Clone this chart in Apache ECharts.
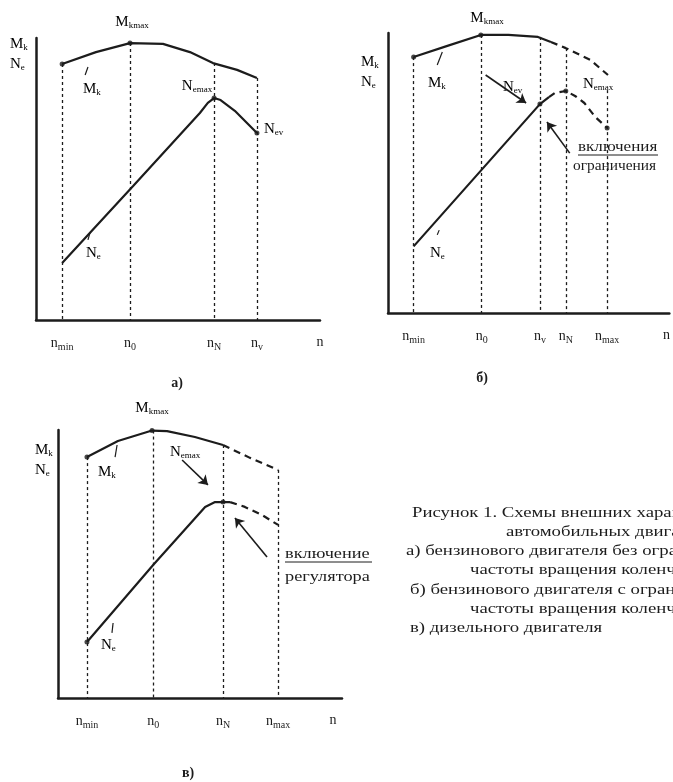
<!DOCTYPE html>
<html><head><meta charset="utf-8">
<script src="https://cdn.jsdelivr.net/npm/echarts@6/dist/echarts.min.js"></script>
<style>html,body{margin:0;padding:0;background:#fff}#c{width:673px;height:782px}</style>
</head><body><div id="c"></div>
<script>
// ---------- Panel а) petrol engine without speed limiter ----------
const a_tickNames = ['n_min', 'n_0', 'n_N', 'n_v', 'n'];
const a_tickX = [9.2, 33.1, 62.7, 77.8, 100];
const a_mkX = [9.2, 21.1, 33.1, 44.7, 54.2, 62.3, 70.8, 77.8];
const a_mkY = [90.8, 95.0, 98.2, 97.9, 95.0, 91.1, 88.7, 85.8];
const a_neX = [9.2, 34.2, 57.7, 60.5, 62.7, 65.0, 70.0, 77.8];
const a_neY = [20.2, 47.5, 73.4, 77.0, 78.7, 78.0, 74.2, 66.3];
const a_dotX = [9.2, 33.1, 62.7, 77.8];
const a_dotY = [90.8, 98.2, 78.7, 66.3];
const a_guideX = [9.2, 33.1, 62.7, 77.8];
const a_guideTop = [90.8, 98.2, 91.1, 85.8];

// ---------- Panel б) petrol engine with speed limiter ----------
const b_tickNames = ['n_min', 'n_0', 'n_v', 'n_N', 'n_max', 'n'];
const b_tickX = [9.1, 33.3, 54.0, 63.2, 77.9, 99];
const b_mkX = [9.1, 21.1, 33.0, 42.8, 53.3, 57.9];
const b_mkY = [91.4, 95.4, 99.3, 99.3, 98.6, 96.8];
const b_mkDashX = [57.9, 63.2, 71.9, 78.2];
const b_mkDashY = [96.8, 94.6, 90.4, 85.0];
const b_neX = [9.1, 54.0, 57.2];
const b_neY = [23.8, 74.6, 77.1];
const b_neDashX = [57.2, 59.3, 63.2, 66.5, 69.8, 73.7, 77.9];
const b_neDashY = [77.1, 78.6, 79.3, 77.5, 75.0, 70.0, 66.1];
const b_dotX = [9.1, 33.0, 54.0, 63.2, 77.9];
const b_dotY = [91.4, 99.3, 74.6, 79.3, 66.1];
const b_guideX = [9.1, 33.3, 54.0, 63.2, 77.9];
const b_guideTop = [91.4, 99.3, 98.6, 94.6, 79.6];

// ---------- Panel в) diesel engine ----------
const c_tickNames = ['n_min', 'n_0', 'n_N', 'n_max', 'n'];
const c_tickX = [10.2, 33.5, 58.1, 77.5, 96.8];
const c_mkX = [10.2, 21.1, 33.1, 38.4, 48.2, 58.1];
const c_mkY = [89.9, 95.9, 99.8, 99.6, 97.4, 94.4];
const c_mkDashX = [58.1, 67.6, 77.5];
const c_mkDashY = [94.4, 89.6, 85.1];
const c_neX = [10.2, 33.5, 51.8, 55.3, 58.1, 60.6];
const c_neY = [20.9, 49.6, 71.3, 73.1, 73.1, 73.1];
const c_neDashX = [60.6, 65.8, 71.8, 77.5];
const c_neDashY = [73.1, 71.3, 68.3, 64.6];
const c_dotX = [10.2, 33.1, 10.2, 58.1];
const c_dotY = [89.9, 99.8, 20.9, 73.1];
const c_guideX = [10.2, 33.5, 58.1, 77.5];
const c_guideTop = [89.9, 99.8, 94.4, 85.1];

// ---------- Caption ----------
const captionLines = [
  'Рисунок 1. Схемы внешних характеристик',
  'автомобильных двигателей:',
  'а) бензинового двигателя без ограничения',
  'частоты вращения коленчатого вала;',
  'б) бензинового двигателя с ограничением',
  'частоты вращения коленчатого вала;',
  'в) дизельного двигателя'
];

const FONT = '"Liberation Serif","Times New Roman",serif';
const INK = '#1c1c1c';

function sub(name) {
  const i = name.indexOf('_');
  if (i < 0) return '{m|' + name + '}';
  return '{m|' + name.slice(0, i) + '}{s|' + name.slice(i + 1) + '}';
}
function rich(big, small, drop) {
  return {
    m: { fontSize: big, fontFamily: FONT, color: INK },
    s: { fontSize: small, fontFamily: FONT, color: INK, padding: [drop, 0, 0, 0] }
  };
}
const pair = (xs, ys) => xs.map((x, k) => [x, ys[k]]);

const grids = [
  { left: 36, top: 38, width: 284, height: 282 },
  { left: 388, top: 33, width: 285, height: 280 },
  { left: 58, top: 430, width: 284, height: 268 }
];
const ticks = [[a_tickX, a_tickNames], [b_tickX, b_tickNames], [c_tickX, c_tickNames]];

const xAxis = ticks.map((t, i) => ({
  gridIndex: i, type: 'value', min: 0, max: 100,
  axisLine: { show: true, onZero: false, lineStyle: { color: INK, width: 2.5 } },
  axisTick: { show: false }, splitLine: { show: false },
  axisLabel: {
    show: true, customValues: t[0], margin: 15, showMaxLabel: true, showMinLabel: true,
    formatter: v => sub(t[1][t[0].indexOf(v)]),
    rich: rich(14, 10, 7)
  }
}));
const yAxis = grids.map((g, i) => ({
  gridIndex: i, type: 'value', min: 0, max: 100,
  axisLine: { show: true, onZero: false, lineStyle: { color: INK, width: 2.5 } },
  axisTick: { show: false }, splitLine: { show: false }, axisLabel: { show: false }
}));

function lineSeries(i, xs, ys, dashed, extra) {
  return Object.assign({
    type: 'line', xAxisIndex: i, yAxisIndex: i, data: pair(xs, ys),
    showSymbol: false, symbol: 'none', silent: true, animation: false, z: 3,
    lineStyle: { color: INK, width: 2.2, type: dashed ? [7, 5] : 'solid' }
  }, extra || {});
}
function guides(xs, tops) {
  return {
    silent: true, animation: false, symbol: 'none', label: { show: false },
    lineStyle: { color: INK, width: 1.3, type: [3, 3] },
    data: xs.map((x, k) => [{ coord: [x, tops[k]] }, { coord: [x, 0] }])
  };
}
function arrows(list, head) {
  return {
    silent: true, animation: false, symbol: head ? ['none', 'arrow'] : 'none', symbolSize: 9,
    label: { show: false },
    lineStyle: { color: INK, width: head ? 1.6 : 1.2, type: 'solid' },
    data: list.map(s => [{ coord: s[0] }, { coord: s[1] }])
  };
}
function dots(i, xs, ys, leaders) {
  return {
    type: 'scatter', xAxisIndex: i, yAxisIndex: i, data: pair(xs, ys), symbolSize: 5,
    itemStyle: { color: INK }, silent: true, animation: false, z: 4,
    markLine: arrows(leaders, false)
  };
}

const series = [
  // а)
  lineSeries(0, a_mkX, a_mkY, false, { markLine: guides(a_guideX, a_guideTop) }),
  lineSeries(0, a_neX, a_neY, false),
  dots(0, a_dotX, a_dotY, [[[18.3, 89.7], [17.3, 86.9]], [[19.0, 30.9], [18.3, 28.4]]]),
  // б)
  lineSeries(1, b_mkX, b_mkY, false, { markLine: guides(b_guideX, b_guideTop) }),
  lineSeries(1, b_mkDashX, b_mkDashY, true),
  lineSeries(1, b_neX, b_neY, false, { markLine: arrows([[[34.7, 85.0], [49.1, 75.0]], [[64.6, 57.1], [56.5, 68.2]]], true) }),
  lineSeries(1, b_neDashX, b_neDashY, true),
  dots(1, b_dotX, b_dotY, [[[19.3, 93.2], [17.5, 88.6]], [[18.2, 29.6], [17.5, 27.9]]]),
  // в)
  lineSeries(2, c_mkX, c_mkY, false, { markLine: guides(c_guideX, c_guideTop) }),
  lineSeries(2, c_mkDashX, c_mkDashY, true),
  lineSeries(2, c_neX, c_neY, false, { markLine: arrows([[[43.7, 88.8], [52.8, 79.5]], [[73.6, 52.6], [62.3, 67.2]]], true) }),
  lineSeries(2, c_neDashX, c_neDashY, true),
  dots(2, c_dotX, c_dotY, [[[20.8, 94.4], [20.1, 89.9]], [[19.4, 28.0], [19.0, 24.3]]])
];

// annotation texts (layout positions in pixels)
function T(x, y, name, align, size) {
  size = size || 15;
  return {
    type: 'text', x: x, y: y, silent: true,
    style: { text: sub(name), rich: rich(size, Math.round(size * 0.62), 7), align: align || 'left', verticalAlign: 'middle' }
  };
}
function P(x, y, text, align, size, weight, sx) {
  return {
    type: 'text', x: x, y: y, silent: true, scaleX: sx || 1,
    style: { text: text, fontFamily: FONT, fontSize: size || 15, fontWeight: weight || 'normal', fill: INK, align: align || 'left', verticalAlign: 'middle' }
  };
}
function U(x1, x2, y) {
  return { type: 'line', silent: true, shape: { x1: x1, y1: y, x2: x2, y2: y }, style: { stroke: INK, lineWidth: 1 } };
}

const graphic = [
  // а)
  T(132, 22, 'M_kmax', 'center'), T(10, 44, 'M_k'), T(10, 64, 'N_e'),
  T(83, 89, 'M_k'), T(197, 86, 'N_emax', 'center'), T(264, 129, 'N_ev'), T(86, 253, 'N_e'),
  P(177, 383, 'а)', 'center', 14, 'bold'),
  // б)
  T(487, 18, 'M_kmax', 'center'), T(361, 62, 'M_k'), T(361, 82, 'N_e'),
  T(428, 83, 'M_k'), T(503, 87, 'N_ev'), T(583, 84, 'N_emax'), T(430, 253, 'N_e'),
  P(578, 147, 'включения', 'left', 14, 'normal', 1.22), U(578, 658, 155),
  P(573, 166, 'ограничения', 'left', 14, 'normal', 1.1),
  P(482, 378, 'б)', 'center', 14, 'bold'),
  // в)
  T(152, 408, 'M_kmax', 'center'), T(35, 450, 'M_k'), T(35, 470, 'N_e'),
  T(98, 472, 'M_k'), T(170, 452, 'N_emax'), T(101, 645, 'N_e'),
  P(285, 554, 'включение', 'left', 15, 'normal', 1.22), U(285, 372, 562),
  P(285, 577, 'регулятора', 'left', 15, 'normal', 1.22),
  P(188, 773, 'в)', 'center', 14, 'bold')
];
const capX = [412, 506, 406, 470, 410, 470, 410];
const capY = [513, 532, 551, 570, 590, 609, 628];
captionLines.forEach((s, k) => graphic.push(P(capX[k], capY[k], s, 'left', 15, 'normal', 1.25)));

const chart = echarts.init(document.getElementById('c'), null, { renderer: 'canvas' });
chart.setOption({
  backgroundColor: '#ffffff', animation: false,
  grid: grids, xAxis: xAxis, yAxis: yAxis, series: series, graphic: graphic
});
</script></body></html>
